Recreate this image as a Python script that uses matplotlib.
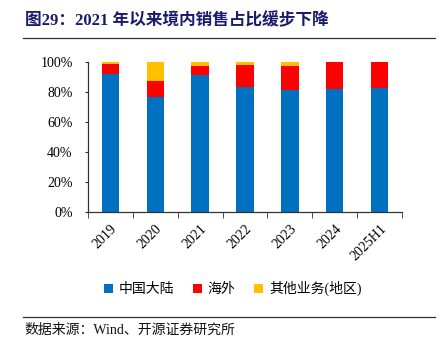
import matplotlib
matplotlib.use("Agg")
import matplotlib.pyplot as plt
import numpy as np

plt.rcParams['font.family'] = ['Liberation Serif', 'Noto Sans CJK SC', 'DejaVu Sans']

years = ["2019", "2020", "2021", "2022", "2023", "2024", "2025H1"]
mainland = [92.4, 76.6, 91.2, 83.6, 81.8, 82.2, 82.9]
overseas = [6.5, 11.0, 6.1, 14.4, 15.8, 17.8, 17.1]
other = [1.1, 12.4, 2.7, 2.0, 2.4, 0.0, 0.0]

labels = ["中国大陆", "海外", "其他业务(地区)"]
colors = ["#0070C0", "#FF0000", "#FFC000"]

fig = plt.figure(figsize=(4.43, 3.48), dpi=100)
ax = fig.add_axes([0.1986, 0.39, 0.7088, 0.4312])

x = np.arange(len(years))
w = 0.39
b1 = np.array(mainland)
b2 = b1 + np.array(overseas)
ax.bar(x, mainland, w, color=colors[0], label=labels[0])
ax.bar(x, overseas, w, bottom=b1, color=colors[1], label=labels[1])
ax.bar(x, other, w, bottom=b2, color=colors[2], label=labels[2])

ax.set_xlim(-0.5, len(years) - 0.5)
ax.set_ylim(0, 100)
ax.set_yticks(np.arange(0, 101, 20))
ax.set_yticklabels(["%d%%" % v for v in range(0, 101, 20)], fontsize=10)
ax.set_xticks(x)
ax.set_xticklabels(years, rotation=45, ha='right', rotation_mode='anchor', fontsize=10)
ax.set_xticks(np.arange(-0.5, len(years), 1), minor=True)
ax.tick_params(axis='x', which='major', length=0, pad=7)
ax.tick_params(axis='x', which='minor', length=4, color='#333333', direction='out')
ax.tick_params(axis='y', length=2, color='#333333', pad=9)
for s in ['top', 'right']:
    ax.spines[s].set_visible(False)
for s in ['left', 'bottom']:
    ax.spines[s].set_color('#333333')
    ax.spines[s].set_linewidth(0.9)

fig.legend(loc='center', bbox_to_anchor=(0.525, 0.17), ncol=3, frameon=False,
           fontsize=10, handlelength=0.7, handleheight=0.7, handletextpad=0.4,
           columnspacing=1.3)

fig.text(0.056, 0.94, "图29：2021 年以来境内销售占比缓步下降", fontsize=12,
         fontweight='bold', color='#1a1a6e', va='center')
fig.add_artist(plt.Line2D([0.052, 0.982], [0.89, 0.89], color='#333333', lw=0.9))
fig.add_artist(plt.Line2D([0.052, 0.982], [0.09, 0.09], color='#333333', lw=0.9))
fig.text(0.056, 0.05, "数据来源：Wind、开源证券研究所", fontsize=10, color='#111111', va='center')

fig.savefig("out.png", dpi=100)
